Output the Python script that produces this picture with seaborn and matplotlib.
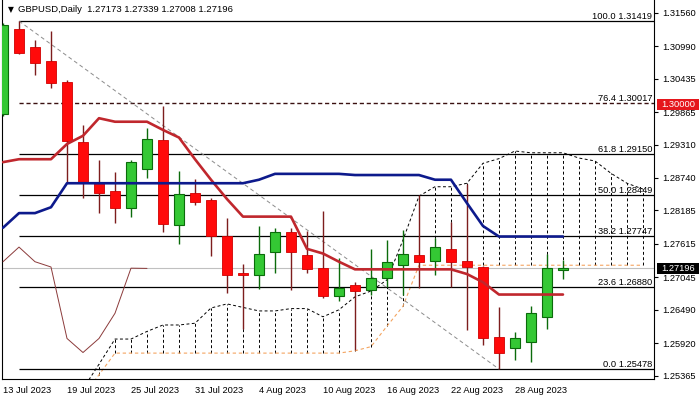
import numpy as np
import pandas as pd
import matplotlib
matplotlib.use("Agg")
import matplotlib.pyplot as plt
import matplotlib.transforms as mtransforms
from matplotlib.patches import Rectangle
import seaborn as sns

# ---------------- data ----------------
symbol_title = "GBPUSD,Daily  1.27173 1.27339 1.27008 1.27196"
tick_bars = [0, 4, 8, 12, 16, 20, 24, 28, 32]
tick_labels = ["13 Jul 2023", "19 Jul 2023", "25 Jul 2023", "31 Jul 2023", "4 Aug 2023",
               "10 Aug 2023", "16 Aug 2023", "22 Aug 2023", "28 Aug 2023"]

opens = [1.2983, 1.3128, 1.3097, 1.3073, 1.3037, 1.2935, 1.2865, 1.2852, 1.2823, 1.2889,
         1.2939, 1.2794, 1.2848, 1.2836, 1.2775, 1.2712, 1.2709, 1.2747, 1.2782, 1.2742,
         1.2720, 1.2673, 1.2691, 1.2682, 1.2703, 1.2725, 1.2742, 1.2733, 1.2752, 1.2732,
         1.2722, 1.2602, 1.2583, 1.2594, 1.2636, 1.27173]
highs = [1.3138, 1.31419, 1.3109, 1.3125, 1.3041, 1.2964, 1.2905, 1.2885, 1.2905, 1.2960,
         1.2996, 1.2886, 1.2872, 1.2840, 1.2805, 1.2727, 1.2792, 1.2788, 1.2788, 1.2783,
         1.2818, 1.2737, 1.2697, 1.2752, 1.2768, 1.2786, 1.2845, 1.2771, 1.2799, 1.2863,
         1.2724, 1.2654, 1.2611, 1.2656, 1.2745, 1.27339]
lows = [1.2979, 1.3086, 1.3050, 1.3028, 1.2865, 1.2839, 1.2815, 1.2797, 1.2808, 1.2874,
        1.2781, 1.2762, 1.2827, 1.2740, 1.2678, 1.2617, 1.2684, 1.2711, 1.2683, 1.2711,
        1.2669, 1.2664, 1.2580, 1.2675, 1.2688, 1.2674, 1.2687, 1.2709, 1.2688, 1.2614,
        1.2589, 1.25478, 1.2564, 1.2560, 1.2617, 1.27008]
closes = [1.3135, 1.3088, 1.3071, 1.3036, 1.2937, 1.2867, 1.2849, 1.2823, 1.2901, 1.2940,
          1.2795, 1.2846, 1.2833, 1.2775, 1.2709, 1.2708, 1.2744, 1.2782, 1.2747, 1.2718,
          1.2673, 1.2687, 1.2681, 1.2703, 1.2730, 1.2745, 1.2731, 1.2756, 1.2731, 1.2722,
          1.2600, 1.2576, 1.2600, 1.2643, 1.2720, 1.27196]

tenkan = [1.2901, 1.2906, 1.2906, 1.2906, 1.2932, 1.2946, 1.2976, 1.2970, 1.2970, 1.2970,
          1.2956, 1.2943, 1.2906, 1.2871, 1.2838, 1.2808, 1.2808, 1.2808, 1.2808, 1.2753,
          1.2745, 1.2731, 1.2718, 1.2718, 1.2718, 1.2718, 1.2718, 1.2718, 1.2718, 1.2710,
          1.2696, 1.2675, 1.2675, 1.2675, 1.2675, 1.2675]
kijun = [1.2789, 1.2814, 1.2814, 1.2824, 1.2865, 1.2865, 1.2865, 1.2865, 1.2865, 1.2865,
         1.2865, 1.2865, 1.2865, 1.2865, 1.2865, 1.2865, 1.2871, 1.2881, 1.2881, 1.2881,
         1.2881, 1.2881, 1.2879, 1.2879, 1.2879, 1.2879, 1.2879, 1.2871, 1.2871, 1.2831,
         1.2792, 1.2774, 1.2774, 1.2774, 1.2774, 1.2774]
span_a = [np.nan, np.nan, np.nan, np.nan, np.nan, 1.2514, 1.2556, 1.2599, 1.2599, 1.2612,
          1.2623, 1.2623, 1.2626, 1.2652, 1.2659, 1.2653, 1.2647, 1.2647, 1.2651, 1.2651,
          1.2637, 1.2649, 1.2671, 1.2681, 1.2700, 1.2768, 1.2843, 1.2859, 1.2859, 1.2865,
          1.2899, 1.2907, 1.2920, 1.2917, 1.2917, 1.2917, 1.2908, 1.2903, 1.2882, 1.2865,
          1.2855]
span_b = [np.nan, np.nan, np.nan, np.nan, np.nan, 1.2502, 1.2538, 1.2575, 1.2575, 1.2575,
          1.2575, 1.2575, 1.2575, 1.2575, 1.2575, 1.2575, 1.2575, 1.2575, 1.2575, 1.2575,
          1.2575, 1.2575, 1.2579, 1.2586, 1.2621, 1.2655, 1.2725, 1.2725, 1.2725, 1.2725,
          1.2725, 1.2725, 1.2725, 1.2725, 1.2725, 1.2725, 1.2725, 1.2725, 1.2725, 1.2725,
          1.2725]

fib_levels = [100.0, 76.4, 61.8, 50.0, 38.2, 23.6, 0.0]
fib_prices = [1.31419, 1.30017, 1.29150, 1.28449, 1.27747, 1.26880, 1.25478]
fib_anchor_bars = [1, 31]
fib_anchor_prices = [1.31419, 1.25478]

price_ticks = [1.31560, 1.30990, 1.30435, 1.29865, 1.29310, 1.28740,
               1.28185, 1.27615, 1.27045, 1.26490, 1.25920, 1.25365]
last_price = 1.27196
round_level = 1.30000

# ---------------- frames ----------------
n = len(closes)
bars = pd.DataFrame({"bar": np.arange(n), "open": opens, "high": highs,
                     "low": lows, "close": closes, "tenkan": tenkan, "kijun": kijun})
bars["chikou"] = bars["close"].shift(-26)
cloud = pd.DataFrame({"bar": np.arange(len(span_a)), "a": span_a, "b": span_b})

# ---------------- style ----------------
sns.set_style("white")
plt.rcParams["font.family"] = ["Liberation Sans", "DejaVu Sans"]

W, H = 699, 397
fig = plt.figure(figsize=(W / 100, H / 100), dpi=100)
ax = fig.add_axes([2 / W, 18 / H, 652 / W, 379 / H])

ax.set_xlim(-0.0625, 40.69)
ax.set_ylim(1.25308, 1.31778)

fs = 6.7

# bid line
ax.axhline(last_price, color="#c0c0c0", lw=0.8, zorder=1)

# cloud
cl = cloud.dropna()
ax.vlines(cl["bar"].iloc[1:], cl["b"].iloc[1:], cl["a"].iloc[1:], colors="black",
          linestyles=(0, (3, 2.5)), lw=0.7, zorder=2)
sns.lineplot(data=cl, x="bar", y="a", ax=ax, color="black", lw=0.7,
             linestyle=(0, (3, 2.5)), zorder=2)
sns.lineplot(data=cl, x="bar", y="b", ax=ax, color="#f4a460", lw=0.8,
             linestyle=(0, (3, 2.5)), zorder=2)

# fib lines
for lvl, p in zip(fib_levels, fib_prices):
    if lvl == 76.4:
        ax.hlines(p, fib_anchor_bars[0], 41, colors="#3a1010", lw=1.0,
                  linestyles=(0, (3, 2)), zorder=2.5)
    else:
        ax.hlines(p, fib_anchor_bars[0], 41, colors="black", lw=0.9, zorder=2.5)
sns.lineplot(x=fib_anchor_bars, y=fib_anchor_prices, ax=ax, color="#8c8c8c", lw=0.7,
             linestyle=(0, (4, 3)), zorder=2.5)

trans = mtransforms.blended_transform_factory(ax.transAxes, ax.transData)
for lvl, p in zip(fib_levels, fib_prices):
    ax.text(0.9975, p + 0.00004, f"{lvl:.1f} {p:.5f}", transform=trans, ha="right",
            va="bottom", fontsize=fs, color="black", zorder=6)

# candles
up = bars["close"] >= bars["open"]
wick_col = np.where(up, "#0b6b0b", "#7d1d1d")
ax.vlines(bars["bar"], bars["low"], bars["high"], colors=wick_col, lw=1.0, zorder=3)
body_lo = np.minimum(bars["open"], bars["close"])
body_h = np.maximum(np.abs(bars["close"] - bars["open"]), 0.00012)
ax.bar(bars["bar"][up], body_h[up], bottom=body_lo[up], width=0.64,
       color="#34c834", edgecolor="#0b6b0b", lw=0.8, zorder=3.5)
ax.bar(bars["bar"][~up], body_h[~up], bottom=body_lo[~up], width=0.64,
       color="#ff0a0a", edgecolor="#d00000", lw=0.6, zorder=3.5)

# ichimoku lines
sns.lineplot(data=bars, x="bar", y="chikou", ax=ax, color="#8b3a3a", lw=0.7, zorder=4)
sns.lineplot(data=bars, x="bar", y="tenkan", ax=ax, color="#c0272d", lw=1.9, zorder=5)
sns.lineplot(data=bars, x="bar", y="kijun", ax=ax, color="#0d1a8c", lw=1.9, zorder=5)

# axes styling
ax.set_xlabel("")
ax.set_ylabel("")
for s in ["left", "bottom", "right"]:
    ax.spines[s].set_visible(True)
    ax.spines[s].set_color("black")
    ax.spines[s].set_linewidth(0.8)
ax.spines["top"].set_visible(False)

ax.yaxis.tick_right()
ax.set_yticks(price_ticks)
ax.set_yticklabels([f"{v:.5f}" for v in price_ticks])
ax.tick_params(axis="y", direction="out", length=3, width=0.8, pad=3, labelsize=fs,
               colors="black", left=False, right=True)
ax.set_xticks(tick_bars)
ax.set_xticklabels(tick_labels)
ax.tick_params(axis="x", direction="out", length=4, width=0.8, pad=1, labelsize=fs,
               colors="black")
for lbl in ax.get_xticklabels():
    lbl.set_horizontalalignment("left")
ax.grid(False)

# price tags on the right axis
tag_x0 = (657 - 2) / 652
tag_w = (699 - 657) / 652
tag_h = 11 / 5858
for price, fc in [(round_level, "#e5161c"), (last_price, "black")]:
    ax.add_patch(Rectangle((tag_x0, price - tag_h / 2), tag_w, tag_h, transform=trans,
                           facecolor=fc, edgecolor="none", clip_on=False, zorder=9))
    ax.text(tag_x0 + tag_w / 2, price, f"{price:.5f}", transform=trans, ha="center",
            va="center", fontsize=fs, color="white", clip_on=False, zorder=10)

# title
fig.text(8 / W, 1 - 10 / H, "▼", fontsize=5.5, family=["DejaVu Sans"], va="center",
         ha="left", color="black")
fig.text(18 / W, 1 - 10 / H, symbol_title, fontsize=6.8, va="center", ha="left",
         color="black")

fig.savefig("out.png", dpi=100)
